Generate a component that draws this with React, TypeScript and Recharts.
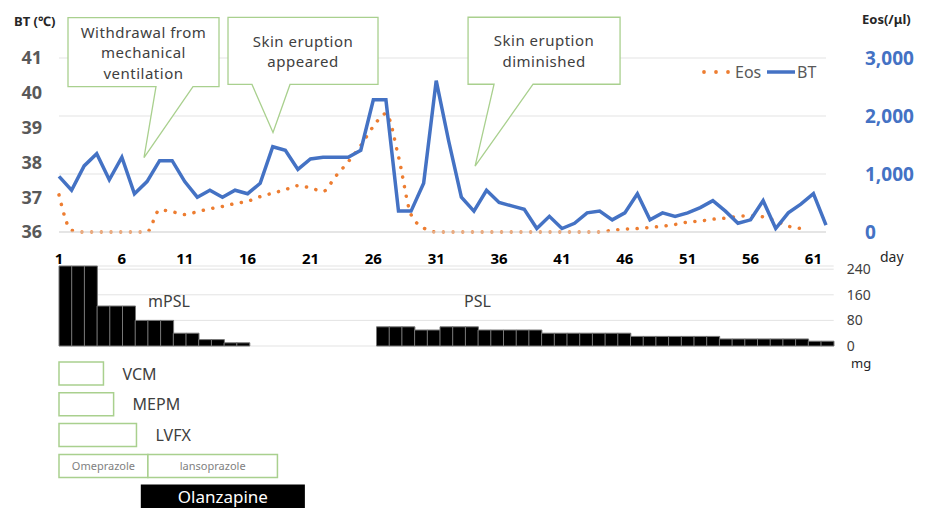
import React from "react";
import {
  ComposedChart,
  Line,
  XAxis,
  YAxis,
  CartesianGrid,
  Legend,
  ReferenceDot,
  BarChart,
  Bar,
  Cell,
  LabelList,
} from "recharts";

const FONT = '"Noto Sans", "Noto Sans CJK JP", sans-serif';
const BLUE = "#4472c4";
const ORANGE = "#ed7d31";
const GREEN = "#a9d08e";

// body temperature (℃), day 1..62
const bt = [
  37.6, 37.2, 37.9, 38.25, 37.5, 38.15, 37.1, 37.45, 38.05, 38.05,
  37.45, 37.0, 37.2, 37.0, 37.2, 37.1, 37.4, 38.45, 38.35, 37.8,
  38.1, 38.15, 38.15, 38.15, 38.35, 39.8, 39.8, 36.6, 36.6, 37.4,
  40.35, 38.6, 37.0, 36.6, 37.2, 36.85, 36.75, 36.65, 36.1, 36.45,
  36.1, 36.25, 36.55, 36.6, 36.35, 36.55, 37.1, 36.35, 36.55, 36.45,
  36.55, 36.7, 36.9, 36.6, 36.25, 36.35, 36.9, 36.1, 36.55, 36.8,
  37.1, 36.2,
];

// eosinophils (/μl), day 1..62
const eos = [
  640, 30, 0, 0, 0, 0, 0, 0, 380, 350,
  300, 350, 400, 440, 490, 530, 610, 670, 730, 800,
  760, 700, 960, 1210, 1490, 1820, 2040, 1300, 300, 70,
  0, 0, 0, 0, 0, 0, 0, 0, 0, 0,
  0, 0, 0, 0, 30, 50, 60, 80, 100, 130,
  170, 190, 220, 240, 270, 280, 260, 190, 100, 60,
  null, null,
];

const dayTicks = [1, 6, 11, 16, 21, 26, 31, 36, 41, 46, 51, 56, 61];
const btTicks = [36, 37, 38, 39, 40, 41];
const eosTicks = [0, 1000, 2000, 3000];

// steroid doses (mg)
const mpslDoses = [250, 250, 250, 125, 125, 125, 80, 80, 80, 40, 40, 20, 20, 10, 10]; // from day 1
const pslFirstDay = 26;
const pslDoses = [
  60, 60, 60, 50, 50, 60, 60, 60, 50, 50,
  50, 50, 50, 40, 40, 40, 40, 40, 40, 40,
  30, 30, 30, 30, 30, 30, 30, 22, 22, 22,
  22, 22, 22, 22, 15, 15,
];
const doseDays = 61;
const doseTicks = [0, 80, 160, 240];

// drug periods, in days from the start of day 1
const drugNames = ["VCM", "MEPM", "LVFX", "Omeprazole", "lansoprazole", "Olanzapine"];
const drugRow = [0, 1, 2, 3, 3, 4];
const drugStart = [0, 0, 0, 0, 7.0, 6.5];
const drugEnd = [3.5, 4.3, 6.1, 7.0, 17.2, 19.3];

// callouts
const noteLines = [
  ["Withdrawal from", "mechanical", "ventilation"],
  ["Skin eruption", "appeared"],
  ["Skin eruption", "diminished"],
];
const noteDay = [7.76, 18.02, 34.09];
const noteBT = [38.14, 38.86, 37.89];

const noteBox = [
  { left: -76, width: 151, top: -140, height: 69, baseL: 12, baseR: 49 },
  { left: -45, width: 150, top: -115, height: 67, baseL: -21, baseR: 17 },
  { left: -7, width: 152, top: -149, height: 67, baseL: 19, baseR: 58 },
];

const drugLook: Record<string, string> = {
  VCM: "outside",
  MEPM: "outside",
  LVFX: "outside",
  Omeprazole: "small",
  lansoprazole: "small",
  Olanzapine: "black",
};

const lineData = bt.map((v, i) => ({ day: i + 1, bt: v, eos: eos[i] }));

const doseData = Array.from({ length: doseDays }, (_, i) => {
  const day = i + 1;
  const m = i < mpslDoses.length ? mpslDoses[i] : null;
  const p = day >= pslFirstDay && day - pslFirstDay < pslDoses.length ? pslDoses[day - pslFirstDay] : null;
  return { day, mpsl: m, psl: p };
});

const drugRows = [0, 1, 2, 3, 4].map((r) => {
  const idx = drugRow.map((row, i) => (row === r ? i : -1)).filter((i) => i >= 0);
  idx.sort((a, b) => drugStart[a] - drugStart[b]);
  const first = idx[0];
  const second = idx[1];
  return {
    row: r,
    off: drugStart[first],
    a: drugEnd[first] - drugStart[first],
    aName: drugNames[first],
    b: second !== undefined ? drugEnd[second] - drugStart[second] : null,
    bName: second !== undefined ? drugNames[second] : null,
  };
});

function Callout(props: any) {
  const { cx, cy, idx } = props;
  const box = noteBox[idx];
  const lines = noteLines[idx];
  const left = cx + box.left;
  const right = left + box.width;
  const top = cy + box.top;
  const bottom = top + box.height;
  const d = `M${left},${top}H${right}V${bottom}H${cx + box.baseR}L${cx},${cy}L${cx + box.baseL},${bottom}H${left}Z`;
  const mx = (left + right) / 2;
  const my = (top + bottom) / 2;
  return (
    <g>
      <path d={d} fill="#fff" stroke={GREEN} strokeWidth={1.3} />
      {lines.map((t, i) => (
        <text
          key={i}
          x={mx}
          y={my + (i - (lines.length - 1) / 2) * 20.5}
          textAnchor="middle"
          dominantBaseline="central"
          fontSize={15}
          letterSpacing={0.5}
          fontFamily={FONT}
          fill="#404040"
        >
          {t}
        </text>
      ))}
    </g>
  );
}

function LegendContent() {
  return (
    <svg width={125} height={20} style={{ display: "block" }}>
      {[4, 16, 28].map((cx) => (
        <circle key={cx} cx={cx} cy={10} r={1.9} fill={ORANGE} />
      ))}
      <text x={35} y={10} dominantBaseline="central" fontSize={16} fontFamily={FONT} fill="#595959">Eos</text>
      <line x1={67} y1={10} x2={95} y2={10} stroke={BLUE} strokeWidth={3.5} />
      <text x={97} y={10} dominantBaseline="central" fontSize={16} fontFamily={FONT} fill="#595959">BT</text>
    </svg>
  );
}

function DrugLabel(props: any) {
  const { x, y, width, height, value } = props;
  if (!value) return null;
  const look = drugLook[value];
  const cy = Number(y) + Number(height) / 2;
  if (look === "outside") {
    return (
      <text x={Number(x) + Number(width) + 19} y={cy} dominantBaseline="central" fontSize={16} fontFamily={FONT} fill="#404040">
        {value}
      </text>
    );
  }
  const small = look === "small";
  return (
    <text
      x={Number(x) + Number(width) / 2}
      y={cy}
      textAnchor="middle"
      dominantBaseline="central"
      fontSize={small ? 11 : 17}
      fontFamily={FONT}
      fill={small ? "#7f7f7f" : "#fff"}
    >
      {value}
    </text>
  );
}

export default function App() {
  const abs = (top: number): React.CSSProperties => ({ position: "absolute", left: 0, top });
  return (
    <div style={{ position: "absolute", left: 0, top: 0, width: 928, height: 508, background: "#fff", overflow: "hidden", fontFamily: FONT }}>
      <div style={abs(0)}>
        <ComposedChart width={928} height={270} data={lineData} margin={{ top: 58, right: 0, bottom: 8, left: 0 }}>
          <CartesianGrid vertical={false} yAxisId="eos" stroke="#e3e3e3" />
          <XAxis
            dataKey="day"
            type="number"
            domain={[1, 62]}
            ticks={dayTicks}
            interval={0}
            height={30}
            tickLine={false}
            tickSize={0}
            tickMargin={21}
            axisLine={{ stroke: "#d9d9d9" }}
            tick={{ fill: "#000", fontSize: 15, fontWeight: "bold", fontFamily: FONT }}
          />
          <YAxis
            yAxisId="bt"
            orientation="left"
            width={59}
            domain={[36, 41]}
            ticks={btTicks}
            interval={0}
            axisLine={false}
            tickLine={false}
            tickSize={0}
            tickMargin={17}
            tick={{ fill: "#595959", fontSize: 18, fontWeight: "bold", fontFamily: FONT }}
          />
          <YAxis
            yAxisId="eos"
            orientation="right"
            width={102}
            domain={[0, 3000]}
            ticks={eosTicks}
            interval={0}
            axisLine={false}
            tickLine={false}
            tickSize={0}
            tickMargin={39}
            tickFormatter={(v: number) => v.toLocaleString("en-US")}
            tick={{ fill: BLUE, fontSize: 19, fontWeight: "bold", fontFamily: FONT }}
          />
          <Line
            yAxisId="eos"
            dataKey="eos"
            type="monotone"
            stroke={ORANGE}
            strokeWidth={3.5}
            strokeDasharray="0.1 9.6"
            strokeLinecap="round"
            dot={false}
            activeDot={false}
            isAnimationActive={false}
          />
          <Line
            yAxisId="bt"
            dataKey="bt"
            type="linear"
            stroke={BLUE}
            strokeWidth={3.5}
            dot={false}
            activeDot={false}
            isAnimationActive={false}
          />
          {noteDay.map((d, i) => (
            <ReferenceDot
              key={i}
              yAxisId="bt"
              x={d}
              y={noteBT[i]}
              r={0}
              shape={(p: any) => <Callout {...p} idx={i} />}
            />
          ))}
          <Legend
            layout="horizontal"
            verticalAlign="middle"
            align="center"
            content={() => <LegendContent />}
            wrapperStyle={{ top: 62, left: 700, width: 125, height: 20 }}
          />
        </ComposedChart>
      </div>

      <div style={abs(256)}>
        <BarChart width={928} height={100} data={doseData} margin={{ top: 10, right: 0, bottom: 10, left: 59 }} barCategoryGap={0} barGap={0}>
          <CartesianGrid vertical={false} stroke="#e3e3e3" />
          <XAxis dataKey="day" hide />
          <YAxis
            orientation="right"
            width={94.3}
            domain={[0, 250]}
            ticks={doseTicks}
            interval={0}
            axisLine={false}
            tickLine={false}
            tickSize={0}
            tickMargin={13}
            tick={{ fill: "#404040", fontSize: 14, fontFamily: FONT }}
          />
          <Bar dataKey="mpsl" stackId="s" fill="#000" stroke="#777" strokeWidth={1} isAnimationActive={false} />
          <Bar dataKey="psl" stackId="s" fill="#000" stroke="#777" strokeWidth={1} isAnimationActive={false} />
        </BarChart>
      </div>

      <div style={abs(358)}>
        <BarChart
          width={928}
          height={154}
          data={drugRows}
          layout="vertical"
          margin={{ top: 0, right: 94.3, bottom: 0, left: 59 }}
          barSize={23}
        >
          <XAxis type="number" domain={[0, doseDays]} hide />
          <YAxis type="category" dataKey="row" hide />
          <Bar dataKey="off" stackId="d" fill="transparent" isAnimationActive={false} />
          <Bar dataKey="a" stackId="d" strokeWidth={1.5} isAnimationActive={false}>
            {drugRows.map((r, i) => {
              const black = drugLook[r.aName] === "black";
              return <Cell key={i} fill={black ? "#000" : "#fff"} stroke={black ? "#000" : GREEN} />;
            })}
            <LabelList dataKey="aName" content={DrugLabel} />
          </Bar>
          <Bar dataKey="b" stackId="d" fill="#fff" stroke={GREEN} strokeWidth={1.5} isAnimationActive={false}>
            <LabelList dataKey="bName" content={DrugLabel} />
          </Bar>
        </BarChart>
      </div>

      <svg width={928} height={508} style={{ position: "absolute", left: 0, top: 0, pointerEvents: "none" }} fontFamily={FONT}>
        <text x={14} y={26} fontSize={13} fontWeight="bold" fill="#262626">BT (℃)</text>
        <text x={862} y={24} fontSize={13} fontWeight="bold" fill="#262626">Eos(/μl)</text>
        <text x={880} y={262} fontSize={14} fill="#262626">day</text>
        <text x={851} y={368} fontSize={13} fill="#262626">mg</text>
        <text x={148} y={307} fontSize={16} fill="#404040">mPSL</text>
        <text x={464} y={307} fontSize={16} fill="#404040">PSL</text>
      </svg>
    </div>
  );
}
